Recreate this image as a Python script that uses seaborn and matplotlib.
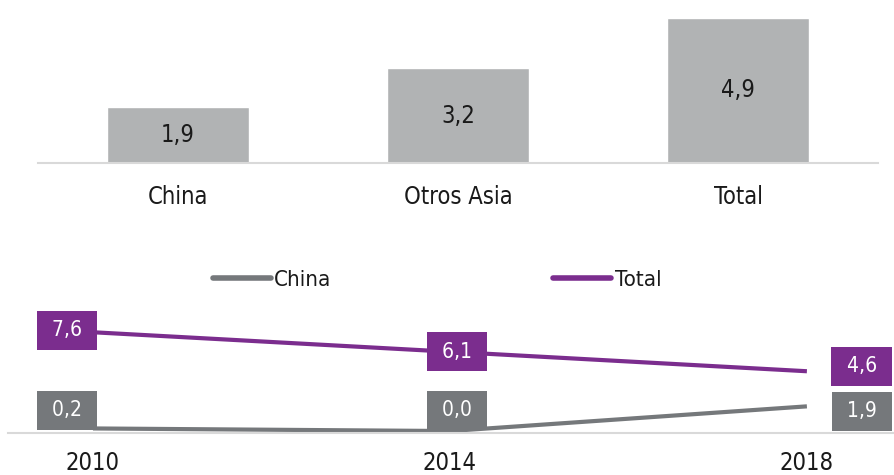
import pandas as pd
import matplotlib
matplotlib.use('Agg')
import matplotlib.pyplot as plt
import seaborn as sns

# top panel: bars
regions = ['China', 'Otros Asia', 'Total']
bar_values = [1.9, 3.2, 4.9]

# bottom panel: lines
years = ['2010', '2014', '2018']
china_values = [0.2, 0.0, 1.9]
total_values = [7.6, 6.1, 4.6]

bar_color = '#B1B3B4'
line_colors = {'China': '#75787B', 'Total': '#7B2D8E'}
axis_color = '#D9D9D9'


def fmt(v):
    return f'{v:.1f}'.replace('.', ',')


sns.set_theme(style='white')
plt.rcParams['font.family'] = ['DejaVu Sans']
plt.rcParams['font.stretch'] = 'condensed'
plt.rcParams['text.color'] = '#1A1A1A'

W, H = 894, 475
fig = plt.figure(figsize=(W / 100, H / 100), dpi=100)

# ---- bar chart
ax1 = fig.add_axes([38 / W, 1 - 163 / H, 840 / W, 163 / H])
sns.barplot(x=regions, y=bar_values, color=bar_color, saturation=1,
            width=0.51, ax=ax1)
ax1.set_xlim(-0.5, 2.5)
ax1.set_ylim(0, 5.5)
ax1.bar_label(ax1.containers[0], labels=[fmt(v) for v in bar_values],
              label_type='center', fontsize=17, color='#1A1A1A')
for s in ['top', 'right', 'left']:
    ax1.spines[s].set_visible(False)
ax1.spines['bottom'].set_color(axis_color)
ax1.spines['bottom'].set_linewidth(1.5)
ax1.set_yticks([])
ax1.tick_params(axis='x', length=0, pad=16, labelsize=17, labelcolor='#1A1A1A')
ax1.set_xlabel('')
ax1.set_ylabel('')

# ---- line chart
df = pd.DataFrame({
    'x': [0, 1, 2] * 2,
    'serie': ['China'] * 3 + ['Total'] * 3,
    'value': china_values + total_values,
})
ax2 = fig.add_axes([8 / W, 42 / H, 886 / W, 133 / H])
sns.lineplot(data=df, x='x', y='value', hue='serie', palette=line_colors,
             linewidth=3, ax=ax2, sort=False)
for ln in ax2.lines:
    ln.set_solid_capstyle('butt')
ax2.set_xlim(-0.238, 2.244)
ax2.set_ylim(-0.15, 10.08)

# value boxes (pixel offsets from the point)
offsets = {
    'Total': [(-26, 2), (7, 0), (55, 5)],
    'China': [(-26, 18), (7, 21), (55, -5)],
}
series = {'China': china_values, 'Total': total_values}
for name, vals in series.items():
    for i, v in enumerate(vals):
        dx, dy = offsets[name][i]
        ax2.annotate(' ' + fmt(v) + ' ', (i, v), xytext=(dx, dy),
                     textcoords='offset pixels', ha='center', va='center',
                     color='white', fontsize=15, zorder=5,
                     bbox=dict(boxstyle='square,pad=0.45',
                               fc=line_colors[name], ec='none'))

leg = ax2.get_legend()
handles = leg.legend_handles
labels = [t.get_text() for t in leg.get_texts()]
leg.remove()
for h in handles:
    h.set_linewidth(4)
    h.set_solid_capstyle('round')

for s in ['top', 'right', 'left']:
    ax2.spines[s].set_visible(False)
ax2.spines['bottom'].set_color(axis_color)
ax2.spines['bottom'].set_linewidth(1.5)
ax2.set_yticks([])
ax2.set_xticks([0, 1, 2], years)
ax2.tick_params(axis='x', length=0, pad=13, labelsize=17, labelcolor='#1A1A1A')
ax2.set_xlabel('')
ax2.set_ylabel('')

fig.legend(handles, labels, loc='center', bbox_to_anchor=(437 / W, 1 - 280 / H),
           ncol=2, frameon=False, fontsize=16, handlelength=2.6,
           handletextpad=0.15, columnspacing=10.0)

fig.savefig('out.png', dpi=100)
